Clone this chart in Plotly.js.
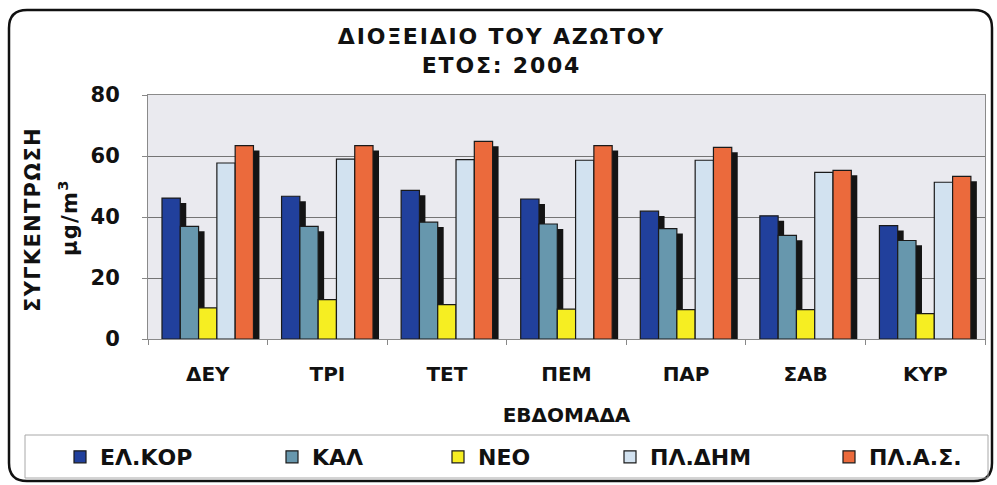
<!DOCTYPE html>
<html><head><meta charset="utf-8">
<script src="https://cdn.plot.ly/plotly-3.0.1.min.js"></script>
<style>html,body{margin:0;padding:0;background:#fff}#c{width:997px;height:485px}
.gtitle{letter-spacing:1.8px}
.annotation-text{letter-spacing:1.3px}
</style>
</head><body><div id="c"></div>
<script>
const days = ['ΔΕΥ','ΤΡΙ','ΤΕΤ','ΠΕΜ','ΠΑΡ','ΣΑΒ','ΚΥΡ'];
const elkor  = [46.2, 46.8, 48.7, 45.9, 41.9, 40.4, 37.2];
const kal    = [36.9, 36.9, 38.3, 37.7, 36.2, 34.0, 32.3];
const neo    = [10.2, 12.9, 11.3, 9.8, 9.6, 9.6, 8.3];
const pldim  = [57.7, 59.0, 58.8, 58.6, 58.6, 54.6, 51.4];
const plas   = [63.4, 63.4, 64.8, 63.4, 62.8, 55.3, 53.3];
const seriesNames = ['ΕΛ.ΚΟΡ','ΚΑΛ','ΝΕΟ','ΠΛ.ΔΗΜ','ΠΛ.Α.Σ.'];
const seriesColors = ['#21409c','#6797ad','#f6ee22','#d2e2f0','#eb6a3c'];
const seriesData = [elkor, kal, neo, pldim, plas];

// bar geometry (category units)
const barW = 0.153, start = -0.383, shadowShift = 0.05, shadowDrop = 1.6;
const legendIds = ['legend','legend2','legend3','legend4','legend5'];
const legendMarkerX = [80, 292, 458, 630, 849];

const traces = [];
seriesData.forEach((v,i)=>{
  // 3D side/shadow
  traces.push({type:'bar', x:days, y:v.map(d=>d-shadowDrop), width:barW, offset:start+i*barW+shadowShift,
    marker:{color:'#141414', line:{width:0}}, showlegend:false, hoverinfo:'skip'});
  traces.push({type:'bar', x:days, y:v, name:'<b>'+seriesNames[i]+'</b>', width:barW, offset:start+i*barW,
    marker:{color:seriesColors[i], line:{color:'#1a1a1a', width:1.2}}, legend:legendIds[i]});
});

const L=148, R=985, T=95, B=339;
const px = p => (p-L)/(R-L);
const py = p => (B-p)/(B-T);
function roundRect(x0,y0,x1,y1,r){
  const X0=px(x0),X1=px(x1),Y0=py(y0),Y1=py(y1);
  const rx=r/(R-L), ry=r/(B-T);
  return `M ${X0+rx} ${Y0} L ${X1-rx} ${Y0} Q ${X1} ${Y0} ${X1} ${Y0-ry} L ${X1} ${Y1+ry} Q ${X1} ${Y1} ${X1-rx} ${Y1} L ${X0+rx} ${Y1} Q ${X0} ${Y1} ${X0} ${Y1+ry} L ${X0} ${Y0-ry} Q ${X0} ${Y0} ${X0+rx} ${Y0} Z`;
}

const F = 'DejaVu Sans, Verdana, sans-serif';
const layout = {
  width:997, height:485,
  margin:{l:L, r:997-R, t:T, b:485-B, autoexpand:false},
  paper_bgcolor:'#ffffff', plot_bgcolor:'#eaeaef',
  font:{family:F, color:'#111', size:18},
  title:{text:'<b>ΔΙΟΞΕΙΔΙΟ ΤΟΥ ΑΖΩΤΟΥ<br>ΕΤΟΣ: 2004</b>', x:0.503, xanchor:'center', xref:'container', yref:'container', y:1-44/485, yanchor:'top', font:{family:F, size:22, color:'#111'}},
  barmode:'overlay',
  showlegend:true,
  xaxis:{type:'category', showgrid:false, ticks:'outside', tickson:'boundaries', ticklen:5, tickcolor:'#888',
    showline:true, linecolor:'#8a8a8a', mirror:true, ticklabelstandoff:17,
    tickfont:{family:F, size:20, color:'#111'}, tickprefix:'<b>', ticksuffix:'</b>',
    title:{text:'<b>ΕΒΔΟΜΑΔΑ</b>', font:{family:F, size:20, color:'#111'}, standoff:22}},
  yaxis:{range:[0,80], dtick:20, showgrid:true, gridcolor:'#747474', gridwidth:1,
    showline:true, linecolor:'#8a8a8a', mirror:true, ticks:'outside', ticklen:5, tickcolor:'#888',
    tickfont:{family:F, size:21, color:'#111'}, tickprefix:'<b>', ticksuffix:'</b>', ticklabelstandoff:18,
    zeroline:false},
  annotations:[
    {text:'<b>ΣΥΓΚΕΝΤΡΩΣΗ</b>', xref:'paper', yref:'paper', x:px(33), y:py(220), textangle:-90, showarrow:false, xanchor:'center', yanchor:'middle', font:{family:F, size:21, color:'#111'}},
    {text:'<b>μg/m<sup>3</sup></b>', xref:'paper', yref:'paper', x:px(68), y:py(218), textangle:-90, showarrow:false, xanchor:'center', yanchor:'middle', font:{family:F, size:21, color:'#111'}}
  ],
  shapes:[
    {type:'path', xref:'paper', yref:'paper', path:roundRect(9,10,992,481,18), line:{color:'#111', width:2.5}, layer:'below'},
    {type:'rect', xref:'paper', yref:'paper', x0:px(25), x1:px(988), y0:py(435), y1:py(478), line:{color:'#a8a8a8', width:1}, fillcolor:'rgba(0,0,0,0)', layer:'below'}
  ]
};
legendIds.forEach((id,i)=>{
  layout[id] = {orientation:'h', xref:'container', yref:'container', x:(legendMarkerX[i]-20)/997, xanchor:'left',
    y:1-457/485, yanchor:'middle', font:{family:F, size:22, color:'#111'}, bgcolor:'rgba(0,0,0,0)', borderwidth:0};
});
Plotly.newPlot('c', traces, layout, {displayModeBar:false, staticPlot:true});
</script></body></html>
